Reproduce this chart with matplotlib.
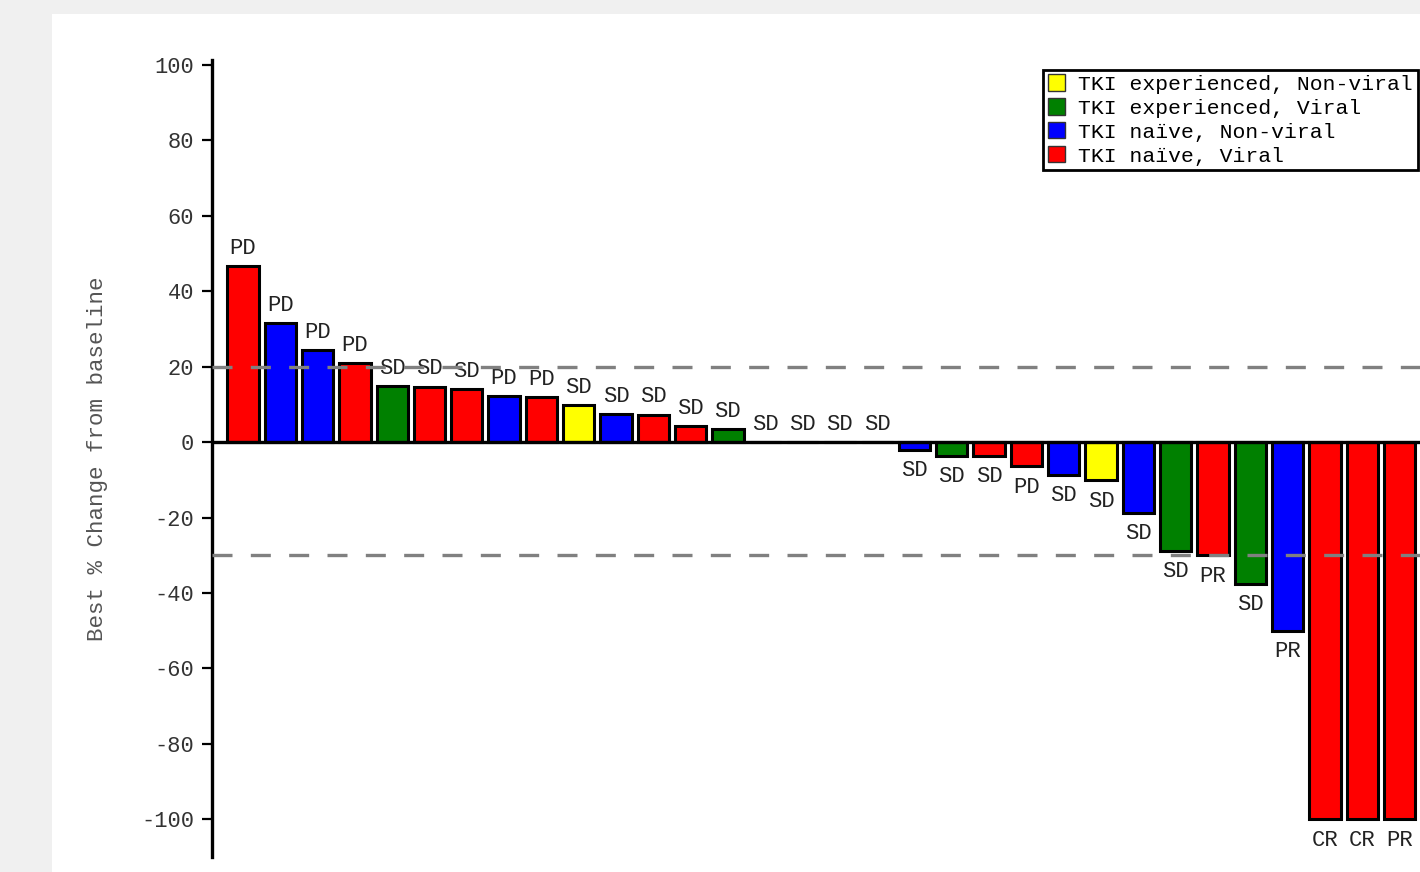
"""Waterfall plot of best % change from baseline."""

import matplotlib

matplotlib.use("Agg")

import matplotlib.pyplot as plt
from matplotlib.patches import Patch, Rectangle

plt.rcParams["font.family"] = ["Liberation Mono", "DejaVu Sans Mono"]

# best % change per patient, sorted
changes = [
    46.6, 31.5, 24.4, 20.9, 14.8, 14.6, 14.0, 12.2, 11.9, 9.8, 7.4, 7.2,
    4.2, 3.4, 0, 0, 0, 0, -2.1, -3.7, -3.7, -6.4, -8.7, -10.1, -18.8,
    -28.9, -30.0, -37.6, -50.0, -100, -100, -100,
]
groups = [
    "nv", "nn", "nn", "nv", "ev", "nv", "nv", "nn", "nv", "en", "nn", "nv",
    "nv", "ev", "nv", "nv", "nv", "nv", "nn", "ev", "nv", "nv", "nn", "en",
    "nn", "ev", "nv", "ev", "nn", "nv", "nv", "nv",
]
responses = [
    "PD", "PD", "PD", "PD", "SD", "SD", "SD", "PD", "PD", "SD", "SD", "SD",
    "SD", "SD", "SD", "SD", "SD", "SD", "SD", "SD", "SD", "PD", "SD", "SD",
    "SD", "SD", "PR", "SD", "PR", "CR", "CR", "PR",
]
group_names = {
    "en": "TKI experienced, Non-viral",
    "ev": "TKI experienced, Viral",
    "nn": "TKI naïve, Non-viral",
    "nv": "TKI naïve, Viral",
}
group_colors = {"en": "yellow", "ev": "green", "nn": "blue", "nv": "red"}
thresholds = [20, -30]
y_ticks = list(range(-100, 101, 20))

W, H, DPI = 1420, 872, 100
fig = plt.figure(figsize=(W / DPI, H / DPI), dpi=DPI, facecolor="#f0f0f0")
fig.patches.append(
    Rectangle((52 / W, 0), 1, (H - 14) / H, transform=fig.transFigure,
              facecolor="white", edgecolor="none", zorder=-10)
)

ax = fig.add_axes([212 / W, 15 / H, (W - 212) / W, (857 - 60) / H])
ax.patch.set_alpha(0)

x = list(range(len(changes)))
ax.bar(
    x, changes, width=0.84,
    color=[group_colors[g] for g in groups],
    edgecolor="black", linewidth=2.2, zorder=2,
)

for xi, val, lab in zip(x, changes, responses):
    offset = 13 if val >= 0 else -15
    ax.annotate(lab, (xi, val), xytext=(0, offset), textcoords="offset points",
                ha="center", va="center", fontsize=16, color="#222222")

for t in thresholds:
    ax.axhline(t, color="#808080", linewidth=2.4, dashes=(6, 5.5), zorder=3)
ax.axhline(0, color="black", linewidth=2.4, zorder=4)

ax.set_xlim(-0.83, 31.55)
ax.set_ylim(-110, 101.3)
ax.set_yticks(y_ticks)
ax.set_yticklabels([str(v) for v in y_ticks])
ax.tick_params(axis="y", length=7, width=1.6, labelsize=15.8,
               labelcolor="#333333", pad=6)
ax.set_xticks([])
for side in ("top", "right", "bottom"):
    ax.spines[side].set_visible(False)
ax.spines["left"].set_linewidth(2.4)
ax.set_ylabel("Best % Change from baseline", fontsize=16.2, color="#555555",
              labelpad=24)

handles = [
    Patch(facecolor=group_colors[k], edgecolor="#333333", linewidth=1,
          label=group_names[k])
    for k in ("en", "ev", "nn", "nv")
]
leg = ax.legend(
    handles=handles, loc="upper right", bbox_to_anchor=(0.998, 0.988),
    fontsize=15.4, frameon=True, fancybox=False, framealpha=1,
    edgecolor="black", borderpad=0.22, labelspacing=0.2,
    handlelength=0.8, handleheight=0.8, handletextpad=0.6,
    borderaxespad=0,
)
leg.get_frame().set_linewidth(2)

fig.savefig("out.png", dpi=DPI, facecolor=fig.get_facecolor())
